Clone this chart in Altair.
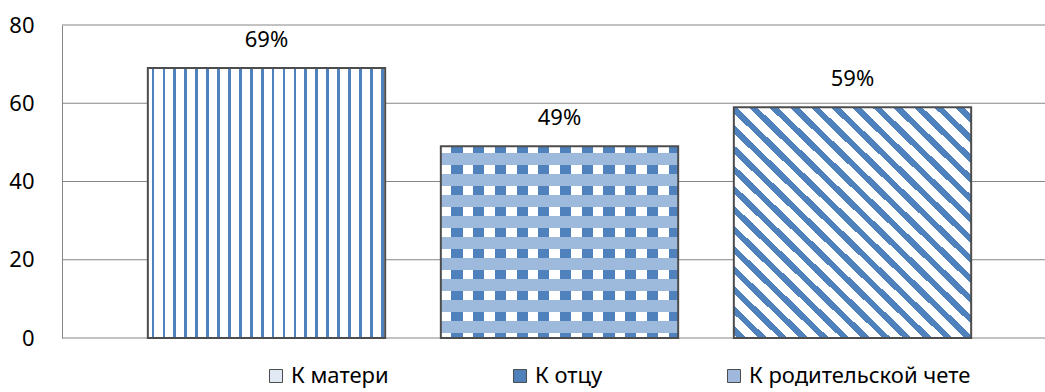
import altair as alt
import pandas as pd

# Chart data
categories = ["К матери", "К отцу", "К родительской чете"]
values = [69, 49, 59]
labels = ["69%", "49%", "59%"]
y_ticks = [0, 20, 40, 60, 80]

BLUE = "#4f81bd"
WHITE = "#ffffff"
MIX = "#9db9dc"
CLEAR = "rgba(255,255,255,0)"
EDGE = "#4d4d4d"
GRID = "#868686"
FONT = "Noto Sans"
PLOT_W = 983
PLOT_H = 313


def stripes(periods, first, second, split, phase=0.0):
    """Hard-edged repeating bands expressed as gradient stops."""
    step = 1.0 / periods
    stops = []
    k = -2
    while (k + phase) * step < 1.0:
        a = (k + phase) * step
        b = a + split * step
        c = a + step
        for lo, hi, col in ((a, b, first), (b, c, second)):
            lo2, hi2 = max(lo, 0.0), min(hi, 1.0)
            if hi2 > lo2:
                stops.append(alt.GradientStop(offset=round(lo2, 5), color=col))
                stops.append(alt.GradientStop(offset=round(hi2, 5), color=col))
        k += 1
    return stops


def linear(stops, x1=0, y1=0, x2=1, y2=0):
    return alt.LinearGradient(gradient="linear", stops=stops, x1=x1, y1=y1, x2=x2, y2=y2)


# pattern fills: vertical pinstripes, plaid (columns + checker rows), diagonal stripes
fill_mother = linear(stripes(21.75, BLUE, WHITE, 0.25, phase=0.35))
fill_father_cols = linear(stripes(10.93, WHITE, BLUE, 0.49))
fill_father_rows = linear(stripes(9.13, MIX, CLEAR, 0.571, phase=0.3), x1=0, y1=0, x2=0, y2=1)
fill_couple = linear(stripes(23, BLUE, WHITE, 0.42, phase=0.2), x1=0, y1=1, x2=1, y2=0)

df = pd.DataFrame({"cat": categories, "value": values, "label": labels})
grid_df = pd.DataFrame({"value": y_ticks})

y_scale = alt.Scale(domain=[0, 80], nice=False)
y_axis = alt.Axis(
    values=y_ticks,
    grid=False,
    domainColor=GRID,
    domainWidth=1,
    ticks=False,
    labelFontSize=22,
    labelFont=FONT,
    labelColor="#000000",
    labelPadding=28,
    title=None,
)

x_enc = alt.X(
    "cat:N",
    sort=categories,
    axis=None,
    scale=alt.Scale(range=[58, 937], paddingInner=0.19, paddingOuter=0.095),
)
y_enc = alt.Y("value:Q", scale=y_scale, axis=y_axis)

# horizontal gridlines across the full plot width
grid = (
    alt.Chart(grid_df)
    .mark_rule(color=GRID, strokeWidth=1)
    .encode(
        y=alt.Y("value:Q", scale=y_scale, axis=y_axis),
        x=alt.value(0),
        x2=alt.value(PLOT_W),
    )
)

base = alt.Chart(df)


def bar_layer(cat, fill, stroke=True):
    style = {"stroke": EDGE, "strokeWidth": 2} if stroke else {}
    return (
        base.transform_filter(alt.datum.cat == cat)
        .mark_bar(fill=fill, **style)
        .encode(x=x_enc, y=y_enc)
    )


bars = [
    bar_layer(categories[0], fill_mother),
    bar_layer(categories[1], fill_father_cols, stroke=False),
    bar_layer(categories[1], fill_father_rows),
    bar_layer(categories[2], fill_couple),
]

value_text = base.mark_text(
    baseline="bottom", dy=-16, fontSize=22, font=FONT, color="#000000"
).encode(x=x_enc, y=y_enc, text="label:N")

# invisible marks that carry the legend
legend_layer = base.mark_square(opacity=0, size=10).encode(
    x=x_enc,
    y=y_enc,
    color=alt.Color(
        "cat:N",
        sort=categories,
        scale=alt.Scale(domain=categories, range=["#dfe8f3", BLUE, "#9fb8db"]),
        legend=alt.Legend(
            title=None,
            orient="none",
            direction="horizontal",
            legendX=203,
            legendY=340,
            symbolType="square",
            symbolSize=169,
            symbolOpacity=1,
            symbolStrokeColor=EDGE,
            symbolStrokeWidth=1,
            labelFontSize=22,
            labelFont=FONT,
            labelColor="#000000",
            labelOffset=4,
            labelLimit=0,
            columnPadding=120,
            padding=0,
        ),
    ),
)

chart = (
    alt.layer(grid, *bars, value_text, legend_layer)
    .properties(
        width=PLOT_W,
        height=PLOT_H,
        autosize=alt.AutoSizeParams(type="none"),
        padding={"left": 62, "top": 25, "right": 0, "bottom": 54},
        background="#ffffff",
    )
    .configure_view(stroke=None)
)

chart.save("out.html", embed_options={"renderer": "svg", "actions": False})
